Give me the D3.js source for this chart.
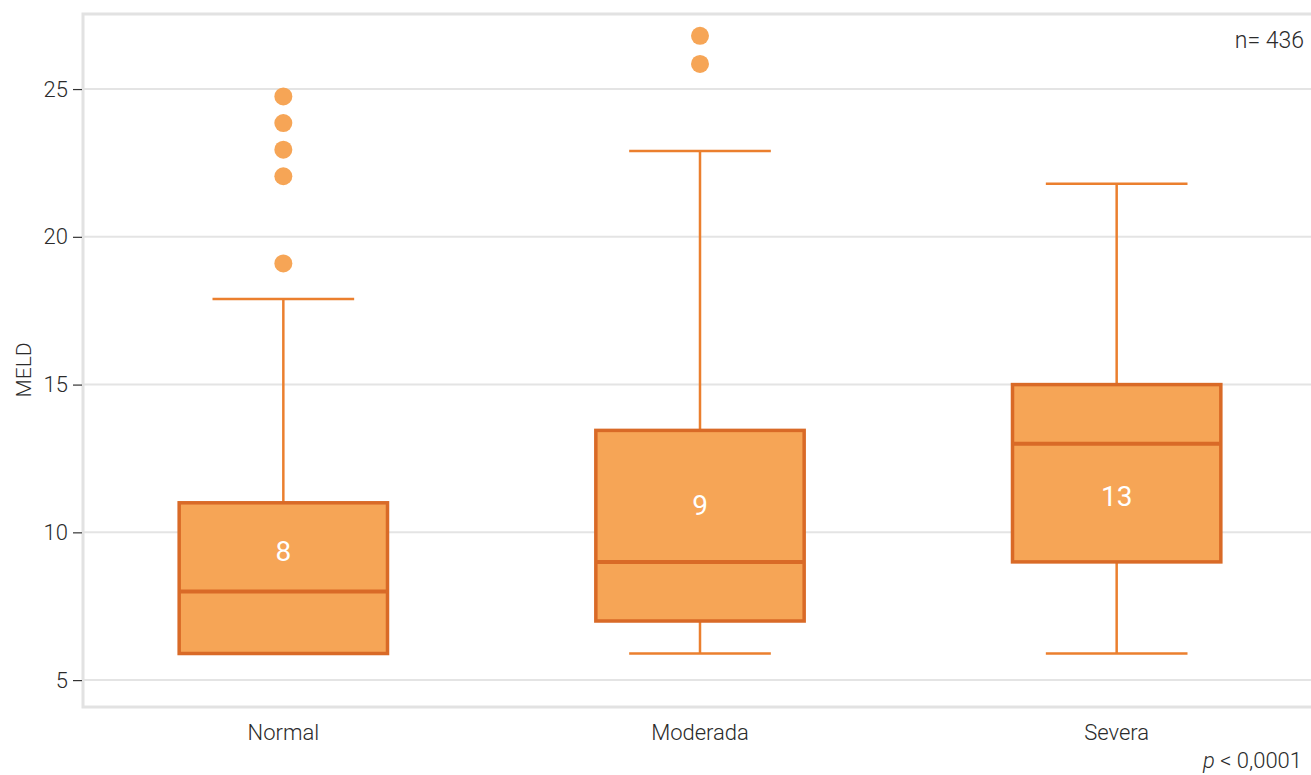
<!DOCTYPE html>
<html>
<head>
<meta charset="utf-8">
<script src="https://cdn.jsdelivr.net/npm/d3@7"></script>
<style>
  html, body { margin: 0; padding: 0; background: #fff; }
  svg { display: block; }
  text { font-family: Roboto, "Liberation Sans", sans-serif; font-weight: 300; fill: #2b2b2b; }
</style>
</head>
<body>
<svg id="chart" width="1311" height="775"></svg>
<script>
// MELD score by group
const categories = ["Normal", "Moderada", "Severa"];
const whiskerLow  = [5.9, 5.9, 5.9];
const q1          = [5.9, 7.0, 9.0];
const median      = [8, 9, 13];
const q3          = [11.0, 13.45, 15.0];
const whiskerHigh = [17.9, 22.9, 21.8];
const outliers    = [[19.1, 22.05, 22.95, 23.85, 24.75], [25.85, 26.8], []];
const medianLabelAt = [9.35, 10.9, 11.2];
const yTicks = [5, 10, 15, 20, 25];

const svg = d3.select("#chart");
const plot = { left: 83, right: 1311, top: 14, bottom: 707 };

const x = d3.scaleBand().domain(categories).range([75, 1325]).paddingInner(0.5).paddingOuter(0.25);
const y = d3.scaleLinear().domain([4.09, 27.54]).range([plot.bottom, plot.top]);

const fill = "#F6A556", boxStroke = "#D96A27", whisk = "#EB7F2E";
const labelFont = "Roboto, 'Liberation Sans', sans-serif";

// gridlines
svg.append("g").selectAll("line").data(yTicks).join("line")
  .attr("x1", plot.left).attr("x2", plot.right)
  .attr("y1", d => y(d)).attr("y2", d => y(d))
  .attr("stroke", "#e4e4e4").attr("stroke-width", 2);

// frame
svg.append("rect")
  .attr("x", plot.left).attr("y", plot.top)
  .attr("width", plot.right - plot.left + 5).attr("height", plot.bottom - plot.top)
  .attr("fill", "none").attr("stroke", "#e2e2e2").attr("stroke-width", 3);

// y axis
const yAxis = d3.axisLeft(y).tickValues(yTicks).tickSize(9).tickPadding(5);
const gy = svg.append("g").attr("transform", `translate(${plot.left - 1},0)`).call(yAxis);
gy.select(".domain").remove();
gy.selectAll(".tick line").attr("stroke", "#333").attr("stroke-width", 1.2);
gy.selectAll(".tick text").style("font-size", "22px").attr("fill", "#2b2b2b")
  .style("font-family", labelFont).style("font-weight", 300);

// x axis labels
const xAxis = d3.axisBottom(x).tickSize(0).tickPadding(17);
const gx = svg.append("g").attr("transform", `translate(0,${plot.bottom})`).call(xAxis);
gx.select(".domain").remove();
gx.selectAll(".tick text").style("font-size", "22px").attr("fill", "#2b2b2b")
  .style("font-family", labelFont).style("font-weight", 300);

// y title
svg.append("text")
  .attr("transform", `translate(31,370) rotate(-90)`)
  .attr("text-anchor", "middle")
  .style("font-size", "21px")
  .text("MELD");

// boxes
const groups = svg.append("g").selectAll("g").data(categories).join("g");
groups.each(function(c, i) {
  const g = d3.select(this);
  const cx = x(c) + x.bandwidth() / 2;
  const bw = x.bandwidth();
  const capW = bw * 0.34;
  // upper whisker
  g.append("line").attr("x1", cx).attr("x2", cx)
    .attr("y1", y(q3[i])).attr("y2", y(whiskerHigh[i]))
    .attr("stroke", whisk).attr("stroke-width", 2.5);
  g.append("line").attr("x1", cx - capW).attr("x2", cx + capW)
    .attr("y1", y(whiskerHigh[i])).attr("y2", y(whiskerHigh[i]))
    .attr("stroke", whisk).attr("stroke-width", 2.5);
  // lower whisker
  if (whiskerLow[i] < q1[i]) {
    g.append("line").attr("x1", cx).attr("x2", cx)
      .attr("y1", y(q1[i])).attr("y2", y(whiskerLow[i]))
      .attr("stroke", whisk).attr("stroke-width", 2.5);
    g.append("line").attr("x1", cx - capW).attr("x2", cx + capW)
      .attr("y1", y(whiskerLow[i])).attr("y2", y(whiskerLow[i]))
      .attr("stroke", whisk).attr("stroke-width", 2.5);
  }
  // box
  g.append("rect")
    .attr("x", x(c)).attr("width", bw)
    .attr("y", y(q3[i])).attr("height", y(q1[i]) - y(q3[i]))
    .attr("fill", fill).attr("stroke", boxStroke).attr("stroke-width", 3.5);
  // median
  g.append("line").attr("x1", x(c)).attr("x2", x(c) + bw)
    .attr("y1", y(median[i])).attr("y2", y(median[i]))
    .attr("stroke", boxStroke).attr("stroke-width", 4);
  // median label
  g.append("text").attr("x", cx).attr("y", y(medianLabelAt[i]))
    .attr("text-anchor", "middle").attr("dominant-baseline", "central")
    .style("font-size", "28px").style("font-weight", 400).style("fill", "#fff")
    .text(median[i]);
  // outliers
  g.selectAll("circle").data(outliers[i]).join("circle")
    .attr("cx", cx).attr("cy", d => y(d)).attr("r", 9)
    .attr("fill", fill);
});

// annotations
svg.append("text").attr("x", 1304).attr("y", 48).attr("text-anchor", "end")
  .style("font-size", "23px").text("n= 436");
const pt = svg.append("text").attr("x", 1302).attr("y", 768).attr("text-anchor", "end")
  .style("font-size", "22px");
pt.append("tspan").style("font-style", "italic").text("p");
pt.append("tspan").text(" < 0,0001");
</script>
</body>
</html>
